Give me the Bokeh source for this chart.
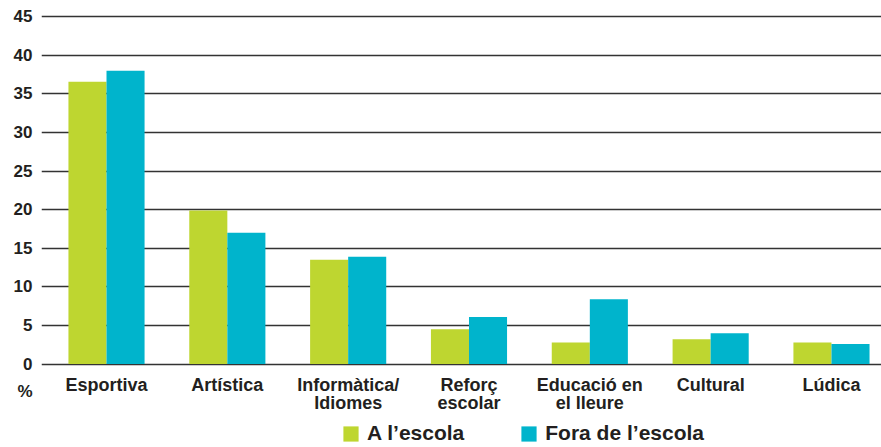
from bokeh.plotting import figure
from bokeh.models import ColumnDataSource, Range1d, FixedTicker, Legend, LegendItem
from bokeh.core.properties import value
from bokeh.transform import dodge
from bokeh.embed import file_html
from bokeh.resources import INLINE

# ---- data ----
categories = ["Esportiva", "Artística", "Informàtica/\nIdiomes", "Reforç\nescolar",
              "Educació en\nel lleure", "Cultural", "Lúdica"]
a_escola = [36.6, 19.9, 13.5, 4.5, 2.8, 3.2, 2.8]
fora_escola = [38.0, 17.0, 13.9, 6.1, 8.4, 4.0, 2.6]
y_ticks = [0, 5, 10, 15, 20, 25, 30, 35, 40, 45]
series_names = ["A l’escola", "Fora de l’escola"]
unit_label = "%"

GREEN = "#BED630"
BLUE = "#00B4CC"
TEXT = "#231F20"
FONT = "Liberation Sans"

# layout constants (not data)
UNIT_POS = -3.56          # where the "%" sits on the y scale
Y_MIN, Y_MAX = -10.82, 45.3
X_MIN, X_MAX = -0.538, 6.414

xs = list(range(len(categories)))
src = ColumnDataSource(dict(x=xs, a=a_escola, f=fora_escola, label=categories,
                            base=[0] * len(xs)))

p = figure(width=881, height=447, output_backend="svg", toolbar_location=None,
           x_range=Range1d(X_MIN, X_MAX), y_range=Range1d(Y_MIN, Y_MAX),
           x_axis_location=None,
           min_border_left=41, min_border_right=0, min_border_top=14,
           min_border_bottom=0)
p.outline_line_color = None
p.background_fill_color = "white"

bw = 0.315
r1 = p.vbar(x=dodge('x', -bw / 2, range=p.x_range), top='a', bottom='base', width=bw,
            source=src, fill_color=GREEN, line_color=None)
r2 = p.vbar(x=dodge('x', bw / 2, range=p.x_range), top='f', bottom='base', width=bw,
            source=src, fill_color=BLUE, line_color=None)

# category labels under the bars
p.text(x='x', y='base', text='label', source=src, y_offset=11,
       text_align="center", text_baseline="top", text_font=value(FONT),
       text_font_style="bold", text_font_size=value("18px"), text_color=TEXT,
       text_line_height=0.9)

p.xgrid.grid_line_color = None

# y axis
p.yaxis.ticker = FixedTicker(ticks=y_ticks + [UNIT_POS])
p.yaxis.major_label_overrides = {UNIT_POS: unit_label}
p.yaxis.axis_line_color = None
p.yaxis.major_tick_line_color = None
p.yaxis.minor_tick_line_color = None
p.yaxis.major_tick_out = 0
p.yaxis.major_tick_in = 0
p.yaxis.major_label_standoff = 9
p.yaxis.major_label_text_font = FONT
p.yaxis.major_label_text_font_style = "bold"
p.yaxis.major_label_text_font_size = "17px"
p.yaxis.major_label_text_color = TEXT
p.ygrid.ticker = FixedTicker(ticks=y_ticks)
p.ygrid.grid_line_color = "#333333"
p.ygrid.grid_line_width = 1.5

legend = Legend(items=[LegendItem(label=series_names[0], renderers=[r1]),
                       LegendItem(label=series_names[1], renderers=[r2])],
                orientation="horizontal", location=(300, 2),
                glyph_width=19, glyph_height=19, label_standoff=7, spacing=55,
                padding=0, margin=0, border_line_color=None, background_fill_alpha=0,
                label_text_font=FONT, label_text_font_style="bold",
                label_text_font_size="21px", label_text_color=TEXT)
p.add_layout(legend, "center")

open("out.html", "w").write(file_html(p, INLINE))
